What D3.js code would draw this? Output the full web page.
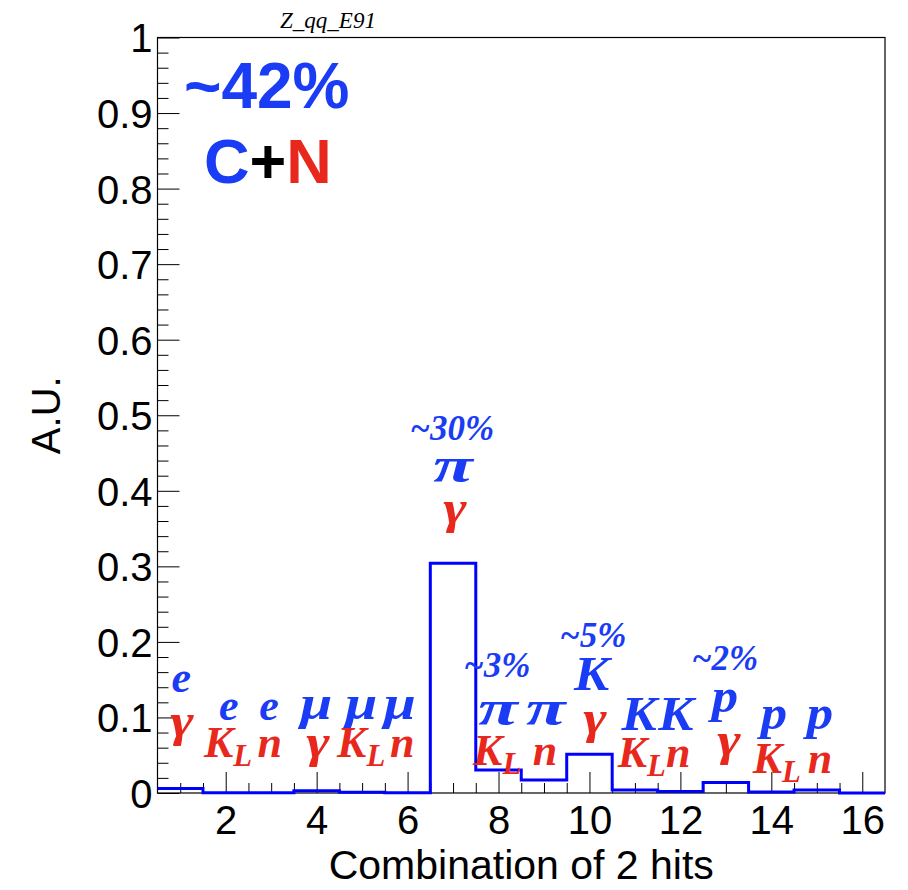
<!DOCTYPE html>
<html>
<head>
<meta charset="utf-8">
<script src="https://cdn.jsdelivr.net/npm/d3@7"></script>
<style>
  html, body { margin: 0; padding: 0; background: #fff; }
  svg { display: block; }
</style>
</head>
<body>
<svg id="chart" width="908" height="890"></svg>
<script>
// ---------------- data ----------------
const bins = [1, 2, 3, 4, 5, 6, 7, 8, 9, 10, 11, 12, 13, 14, 15, 16];
const values = [0.006, 0.0004, 0.0004, 0.003, 0.001, 0.0004, 0.304, 0.0305, 0.0172, 0.0512, 0.004, 0.002, 0.014, 0.0013, 0.004, 0.0];
const yTickLabels = ["0", "0.1", "0.2", "0.3", "0.4", "0.5", "0.6", "0.7", "0.8", "0.9", "1"];
const xTickLabels = ["2", "4", "6", "8", "10", "12", "14", "16"];
const titleText = "Z_qq_E91";
const xTitle = "Combination of 2 hits";
const yTitle = "A.U.";
const bigPercent = "~42%";

// annotations in data coordinates (bin, value)
const blueLabels = [
  { x: 1.02, y: 0.1337, t: "e" },
  { x: 2.07, y: 0.0966, t: "e" },
  { x: 2.95, y: 0.0966, t: "e" },
  { x: 3.99, y: 0.098, t: "μ" },
  { x: 4.98, y: 0.098, t: "μ" },
  { x: 5.83, y: 0.098, t: "μ" },
  { x: 7.0, y: 0.4117, t: "π" },
  { x: 7.99, y: 0.090, t: "π" },
  { x: 9.04, y: 0.090, t: "π" },
  { x: 10.05, y: 0.1363, t: "K" },
  { x: 11.09, y: 0.0834, t: "K" },
  { x: 11.9, y: 0.0834, t: "K" },
  { x: 12.98, y: 0.107, t: "p" },
  { x: 14.06, y: 0.0847, t: "p" },
  { x: 15.07, y: 0.0847, t: "p" }
];
const redLabels = [
  { x: 1.04, y: 0.0755, t: "γ" },
  { x: 2.05, y: 0.0477, t: "KL" },
  { x: 2.97, y: 0.0477, t: "n" },
  { x: 4.03, y: 0.0477, t: "γ" },
  { x: 4.98, y: 0.0477, t: "KL" },
  { x: 5.88, y: 0.0477, t: "n" },
  { x: 7.04, y: 0.357, t: "γ" },
  { x: 7.97, y: 0.0371, t: "KL" },
  { x: 9.02, y: 0.0371, t: "n" },
  { x: 10.12, y: 0.0795, t: "γ" },
  { x: 11.15, y: 0.0344, t: "KL" },
  { x: 11.95, y: 0.0344, t: "n" },
  { x: 13.07, y: 0.0503, t: "γ" },
  { x: 14.12, y: 0.0265, t: "KL" },
  { x: 15.07, y: 0.0265, t: "n" }
];
const percentLabels = [
  { x: 6.98, y: 0.467, t: "~30%" },
  { x: 7.97, y: 0.1535, t: "~3%" },
  { x: 10.08, y: 0.1932, t: "~5%" },
  { x: 12.98, y: 0.1628, t: "~2%" }
];

// ---------------- layout / styles ----------------
const BLUE_TXT = "#1a3cf5";
const RED_TXT = "#e8281c";
const HIST = "#0000ff";
const SANS = "'Liberation Sans', Arial, Helvetica, sans-serif";
const SERIF = "'Liberation Serif', 'Times New Roman', serif";
const glyphStyle = {
  "γ": { size: 47, sx: 1.2 },
  "π": { size: 50, sx: 1.45 },
  "μ": { size: 48, sx: 1.2 },
  "K": { size: 48, sx: 1.1 },
  "p": { size: 48, sx: 1.1 }
};

const frame = { left: 157.5, right: 885, top: 37.5, bottom: 793 };
const x = d3.scaleLinear().domain([0.5, 16.5]).range([frame.left, frame.right]);
const y = d3.scaleLinear().domain([0, 1]).range([frame.bottom, frame.top]);

const svg = d3.select("#chart");

// title
svg.append("text")
  .attr("x", 328).attr("y", 28)
  .attr("text-anchor", "middle")
  .attr("font-family", SERIF).attr("font-style", "italic")
  .attr("font-size", 23).attr("fill", "#000")
  .text(titleText);

// histogram step data
const stepData = [];
bins.forEach((b, i) => {
  stepData.push([b - 0.5, values[i]]);
  stepData.push([b + 0.5, values[i]]);
});
const line = d3.line().x(d => x(d[0])).y(d => y(d[1]));

// axes ticks
const yMajor = d3.range(0, 1.0001, 0.1);
const yMinor = d3.range(0, 1.0001, 0.02).filter(v => Math.abs(v * 10 - Math.round(v * 10)) > 1e-6);
const xMajor = xTickLabels.map(Number);
const xMinor = d3.range(1, 16.5, 0.5).filter(v => xMajor.indexOf(v) < 0);

const gy = svg.append("g").attr("transform", `translate(${frame.left},0)`);
gy.append("g").call(d3.axisLeft(y).tickValues(yMinor).tickSize(-11).tickFormat(""))
  .call(g => g.select(".domain").remove());
gy.append("g").call(d3.axisLeft(y).tickValues(yMajor).tickSize(-22).tickPadding(5)
    .tickFormat((d, i) => yTickLabels[i]))
  .call(g => g.select(".domain").remove())
  .call(g => g.selectAll("text").attr("font-size", 40).attr("font-family", SANS)
    .attr("fill", "#000").attr("dy", "0.36em"));

const gx = svg.append("g").attr("transform", `translate(0,${frame.bottom})`);
gx.append("g").call(d3.axisBottom(x).tickValues(xMinor).tickSize(-10).tickFormat(""))
  .call(g => g.select(".domain").remove());
gx.append("g").call(d3.axisBottom(x).tickValues(xMajor).tickSize(-21).tickPadding(13)
    .tickFormat((d, i) => xTickLabels[i]))
  .call(g => g.select(".domain").remove())
  .call(g => g.selectAll("text").attr("font-size", 40).attr("font-family", SANS).attr("fill", "#000"));

svg.selectAll(".tick line").attr("stroke", "#000").attr("stroke-width", 1);

// frame
svg.append("rect")
  .attr("x", frame.left).attr("y", frame.top)
  .attr("width", frame.right - frame.left).attr("height", frame.bottom - frame.top)
  .attr("fill", "none").attr("stroke", "#000").attr("stroke-width", 1.2);

svg.append("path")
  .datum(stepData)
  .attr("d", line)
  .attr("fill", "none")
  .attr("stroke", HIST)
  .attr("stroke-width", 3)
  .attr("stroke-linejoin", "miter");

// axis titles
svg.append("text")
  .attr("x", (frame.left + frame.right) / 2).attr("y", 879)
  .attr("text-anchor", "middle")
  .attr("font-family", SANS).attr("font-size", 41).attr("fill", "#000")
  .text(xTitle);
svg.append("text")
  .attr("transform", `translate(60,${(frame.top + frame.bottom) / 2}) rotate(-90)`)
  .attr("text-anchor", "middle")
  .attr("font-family", SANS).attr("font-size", 40).attr("fill", "#000")
  .text(yTitle);

// big annotations
svg.append("text")
  .attr("x", 184).attr("y", 108)
  .attr("font-family", SANS).attr("font-weight", "bold").attr("font-size", 64)
  .attr("fill", BLUE_TXT)
  .text(bigPercent);
const cn = svg.append("text")
  .attr("x", 204).attr("y", 183)
  .attr("font-family", SANS).attr("font-weight", "bold").attr("font-size", 63);
cn.append("tspan").attr("fill", BLUE_TXT).text("C");
cn.append("tspan").attr("fill", "#000").text("+");
cn.append("tspan").attr("fill", RED_TXT).text("N");

// particle labels
function drawLabels(arr, color, size) {
  arr.forEach(d => {
    const st = glyphStyle[d.t] || { size: size, sx: 1 };
    const g = svg.append("g")
      .attr("transform", `translate(${x(d.x)},${y(d.y)}) scale(${st.sx},1)`);
    const t = g.append("text")
      .attr("x", 0).attr("y", 0)
      .attr("text-anchor", "middle")
      .attr("font-family", SERIF)
      .attr("font-weight", "bold").attr("font-style", "italic")
      .attr("font-size", st.size).attr("fill", color);
    if (d.t === "KL") {
      t.append("tspan").text("K");
      t.append("tspan").attr("font-size", size * 0.7).attr("dy", size * 0.2).text("L");
    } else {
      t.text(d.t);
    }
  });
}
drawLabels(blueLabels, BLUE_TXT, 44);
drawLabels(redLabels, RED_TXT, 44);
drawLabels(percentLabels, BLUE_TXT, 35);
</script>
</body>
</html>
